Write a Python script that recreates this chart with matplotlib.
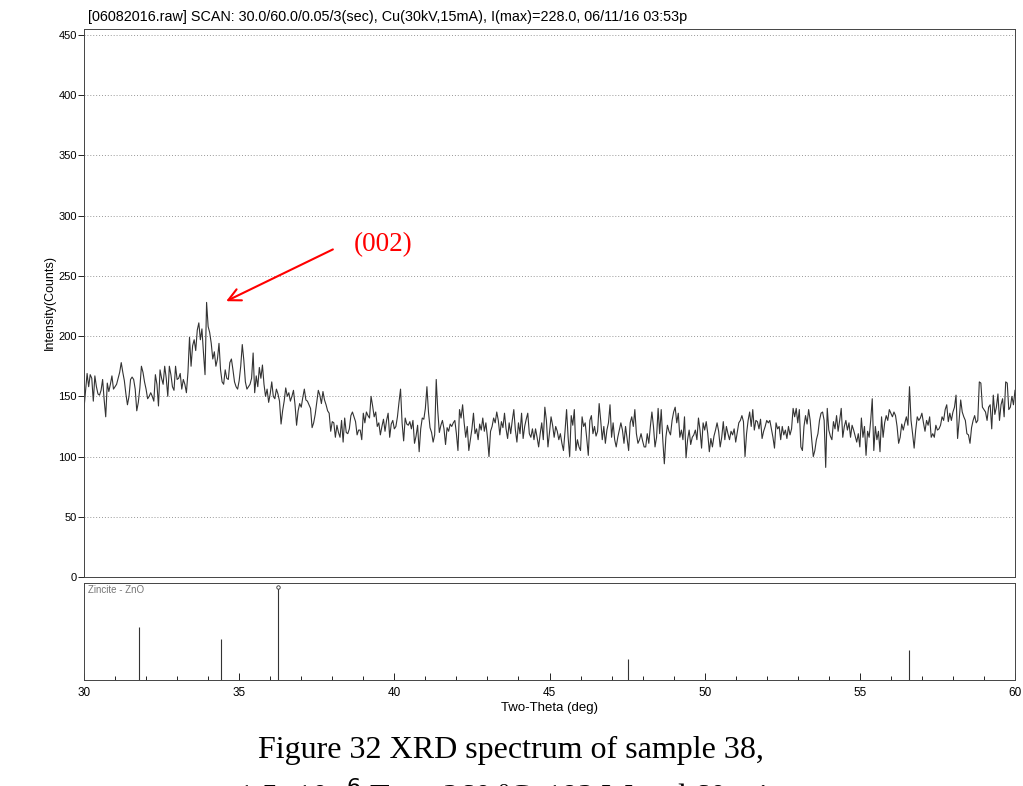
import numpy as np
import matplotlib.pyplot as plt

plt.rcParams['font.family'] = ['Liberation Sans', 'DejaVu Sans']

# XRD scan 30-60 deg, step 0.05 (counts)
counts_30_36 = [
    140, 155, 169, 158, 168, 165, 146, 167, 158, 152,
    151, 155, 164, 147, 133, 161, 154, 160, 167, 156,
    158, 160, 165, 170, 178, 170, 163, 152, 143, 150,
    164, 166, 164, 156, 138, 145, 157, 175, 170, 162,
    156, 148, 150, 153, 150, 146, 168, 160, 142, 172,
    165, 160, 175, 165, 150, 175, 168, 158, 155, 175,
    164, 165, 169, 156, 164, 160, 153, 170, 199, 175,
    192, 197, 188, 205, 211, 197, 206, 186, 168, 228,
    208, 203, 194, 181, 187, 175, 181, 194, 172, 162,
    160, 172, 165, 164, 178, 181, 172, 162, 158, 156,
    163, 175, 193, 180, 162, 156, 158, 160, 165, 186,
    153, 167, 158, 174, 165, 176, 160, 150, 156, 145,
    152,
]
counts_36_42 = [
    162, 150, 148, 156, 152, 146, 127, 138, 146, 157,
    150, 153, 146, 150, 155, 143, 126, 138, 144, 141,
    149, 156, 147, 146, 143, 140, 124, 128, 135, 145,
    155, 151, 144, 154, 147, 143, 138, 136, 121, 129,
    128, 116, 126, 120, 116, 130, 112, 132, 120, 119,
    123, 134, 137, 133, 129, 118, 122, 122, 114, 136,
    128, 137, 134, 132, 150, 142, 133, 137, 125, 128,
    118, 125, 131, 121, 130, 136, 116, 127, 130, 123,
    125, 133, 145, 156, 128, 113, 132, 127, 126, 129,
    123, 130, 111, 117, 126, 104, 123, 132, 131, 140,
    158, 137, 124, 120, 112, 118, 164, 138, 120, 126,
    130, 123, 110, 124, 121, 127, 125, 128, 130, 119,
]
counts_42_48 = [
    105, 139, 132, 143, 128, 116, 125, 105, 114, 123, 136, 119, 123, 114, 127,
    122, 132, 121, 128, 116, 100, 121, 125, 132, 128, 137, 130, 118, 129, 124,
    136, 123, 115, 128, 119, 130, 139, 122, 112, 128, 119, 136, 115, 125, 131,
    136, 119, 116, 123, 114, 123, 116, 108, 119, 128, 114, 141, 130, 108, 120,
    133, 126, 116, 125, 121, 114, 119, 111, 105, 121, 139, 116, 100, 134, 126,
    139, 105, 114, 108, 105, 133, 125, 128, 115, 101, 130, 134, 119, 125, 117,
    121, 144, 130, 114, 125, 111, 122, 128, 143, 116, 128, 114, 108, 116, 122,
    128, 122, 111, 125, 115, 105, 128, 133, 125, 139, 119, 111, 114, 119, 113,
    108,
]
counts_48_54 = [
    108, 119, 111, 125, 137, 125, 108, 116, 140, 119, 139, 114, 94, 116, 126,
    121, 118, 130, 137, 141, 128, 136, 116, 122, 114, 133, 99, 114, 122, 110,
    116, 118, 122, 114, 132, 122, 107, 128, 122, 129, 119, 104, 115, 108, 117,
    122, 128, 121, 108, 116, 129, 114, 125, 119, 114, 121, 118, 123, 112, 120,
    128, 130, 134, 129, 100, 119, 130, 137, 125, 139, 122, 130, 129, 123, 131,
    115, 121, 125, 130, 128, 130, 123, 116, 107, 128, 123, 125, 114, 125, 118,
    122, 115, 125, 118, 123, 140, 133, 140, 128, 139, 108, 105, 125, 134, 127,
    139, 130, 114, 100, 105, 114, 119, 130, 136, 137, 130, 91, 140, 122, 117,
    114,
]
counts_54_60 = [
    129, 123, 134, 121, 130, 140, 116, 125, 130, 122, 128, 116, 126, 122, 117,
    112, 119, 108, 132, 116, 125, 101, 121, 116, 130, 148, 105, 125, 114, 121,
    104, 133, 116, 128, 134, 130, 139, 136, 133, 137, 134, 125, 111, 116, 127,
    122, 128, 133, 126, 158, 130, 119, 107, 122, 133, 130, 132, 136, 128, 121,
    130, 126, 133, 116, 119, 116, 126, 122, 123, 126, 133, 130, 139, 143, 129,
    136, 130, 137, 141, 151, 115, 130, 147, 137, 133, 130, 119, 118, 111, 124,
    130, 134, 128, 130, 162, 161, 141, 139, 137, 130, 141, 143, 123, 151, 135,
    141, 152, 130, 143, 148, 133, 162, 161, 139, 141, 150, 143, 155,
]
counts = counts_30_36 + counts_36_42 + counts_42_48 + counts_48_54 + counts_54_60
two_theta = 30 + 0.05 * np.arange(len(counts))

# Zincite ZnO reference pattern
ref_pos = [31.77, 34.42, 36.25, 47.54, 56.60]
ref_int = [57, 44, 100, 23, 32]

W, H = 1023, 786
fig = plt.figure(figsize=(W / 100, H / 100), dpi=100)
ax1 = fig.add_axes([84 / W, 1 - 577 / H, 931 / W, 548 / H])
ax2 = fig.add_axes([84 / W, 1 - 680 / H, 931 / W, 97 / H])

ax1.plot(two_theta, counts, color='#333333', lw=0.8)
ax1.set_xlim(30, 60)
ax1.set_ylim(0, 455)
ax1.set_yticks(np.arange(0, 451, 50))
ax1.set_xticks([])
ax1.grid(axis='y', ls=(0, (1, 2)), color='#999999', lw=0.7)
ax1.tick_params(axis='y', labelsize=8, length=4, width=0.6, pad=1)
ax1.set_ylabel('Intensity(Counts)', fontsize=9, labelpad=2)
for s in ax1.spines.values():
    s.set_linewidth(0.7)
    s.set_color('#444444')
fig.text(88 / W, 1 - 17 / H,
         '[06082016.raw] SCAN: 30.0/60.0/0.05/3(sec), Cu(30kV,15mA), I(max)=228.0, 06/11/16 03:53p',
         fontsize=10.4, va='center', ha='left')

ax1.annotate('', xy=(34.5, 228), xytext=(38.1, 273),
             arrowprops=dict(arrowstyle='->', color='red', lw=1.5, mutation_scale=22))
ax1.text(39.65, 276, '(002)', color='red', fontsize=19.5, ha='center', va='center',
         family='Liberation Serif')

ax2.vlines(ref_pos, 0, ref_int, color='#333333', lw=0.8)
ax2.plot(ref_pos[2], ref_int[2], 'o', ms=2.5, mfc='white', mec='#333333', mew=0.6)
ax2.set_xlim(30, 60)
ax2.set_ylim(0, 104)
ax2.set_yticks([])
ax2.set_xticks(np.arange(30, 61, 5))
ax2.set_xticks(np.arange(30, 61, 1), minor=True)
ax2.tick_params(axis='x', which='both', direction='in', labelsize=8.5, pad=5)
ax2.tick_params(axis='x', which='major', length=5, width=0.6)
ax2.tick_params(axis='x', which='minor', length=3, width=0.6)
ax2.set_xlabel('Two-Theta (deg)', fontsize=9.5, labelpad=2)
for s in ax2.spines.values():
    s.set_linewidth(0.7)
    s.set_color('#444444')
ax2.text(0.004, 0.93, 'Zincite - ZnO', transform=ax2.transAxes, fontsize=7,
         color='#777777', va='center')

fig.text(511 / W, 1 - 750 / H, 'Figure 32 XRD spectrum of sample 38,',
         fontsize=23, family='Liberation Serif', ha='center', va='center')
fig.text(511 / W, 1 - 795 / H, '1.5×10$^{-6}$ Torr, 260 ºC, 192 W and 60 min',
         fontsize=23, family='Liberation Serif', ha='center', va='center')

fig.savefig('out.png', dpi=100)
